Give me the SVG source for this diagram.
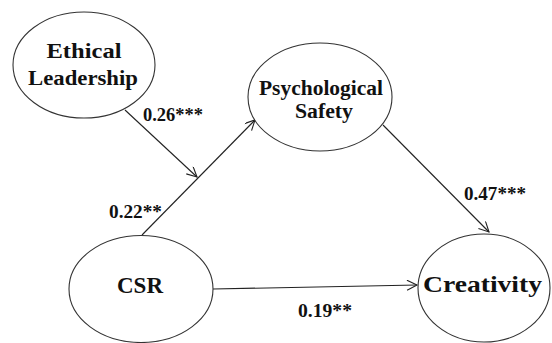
<svg xmlns="http://www.w3.org/2000/svg" width="552" height="343" viewBox="0 0 552 343">
<style>
.node{fill:#fff;stroke:#333;stroke-width:1.1}
.lbl{font-family:"Liberation Serif","Times New Roman",serif;font-weight:bold;fill:#111;text-anchor:middle}
.coef{font-family:"Liberation Serif","Times New Roman",serif;font-weight:bold;fill:#111;font-size:18px}
.edge{stroke:#222;stroke-width:1.1;fill:none;marker-end:url(#arr)}
</style>
<defs>
<marker id="arr" markerUnits="userSpaceOnUse" markerWidth="14" markerHeight="12" refX="11" refY="5" orient="auto" viewBox="0 0 14 12">
<path d="M1,0 L11,5 L1,10" fill="none" stroke="#222" stroke-width="1.1"/>
</marker>
</defs>
<rect width="552" height="343" fill="#fff"/>
<g id="connectors">
<line class="edge" x1="142" y1="235" x2="255" y2="120"/>
<line class="edge" x1="125" y1="110" x2="197" y2="177"/>
<line class="edge" x1="383" y1="125" x2="489" y2="232"/>
<line class="edge" x1="213" y1="289" x2="417" y2="285"/>
</g>
<g id="ethical-leadership">
<ellipse class="node" cx="84" cy="65" rx="71" ry="53"/>
<text class="lbl" x="84" y="58" font-size="22" textLength="75" lengthAdjust="spacingAndGlyphs">Ethical</text>
<text class="lbl" x="83" y="85" font-size="22" textLength="110" lengthAdjust="spacingAndGlyphs">Leadership</text>
</g>
<g id="psychological-safety">
<ellipse class="node" cx="320" cy="97" rx="72" ry="54"/>
<text class="lbl" x="321" y="95" font-size="20" textLength="124" lengthAdjust="spacingAndGlyphs">Psychological</text>
<text class="lbl" x="324" y="118" font-size="20" textLength="58" lengthAdjust="spacingAndGlyphs">Safety</text>
</g>
<g id="csr">
<ellipse class="node" cx="141" cy="289" rx="72" ry="53.5"/>
<text class="lbl" x="140" y="293" font-size="24" textLength="46" lengthAdjust="spacingAndGlyphs">CSR</text>
</g>
<g id="creativity">
<ellipse class="node" cx="484" cy="288" rx="66" ry="54"/>
<text class="lbl" x="482.5" y="292" font-size="24" textLength="119" lengthAdjust="spacingAndGlyphs">Creativity</text>
</g>
<g id="coefficients">
<text class="coef" x="143" y="121" textLength="60" lengthAdjust="spacingAndGlyphs">0.26***</text>
<text class="coef" x="109" y="218" textLength="53" lengthAdjust="spacingAndGlyphs">0.22**</text>
<text class="coef" x="464" y="200" textLength="62" lengthAdjust="spacingAndGlyphs">0.47***</text>
<text class="coef" x="298" y="317" textLength="54" lengthAdjust="spacingAndGlyphs">0.19**</text>
</g>
</svg>
